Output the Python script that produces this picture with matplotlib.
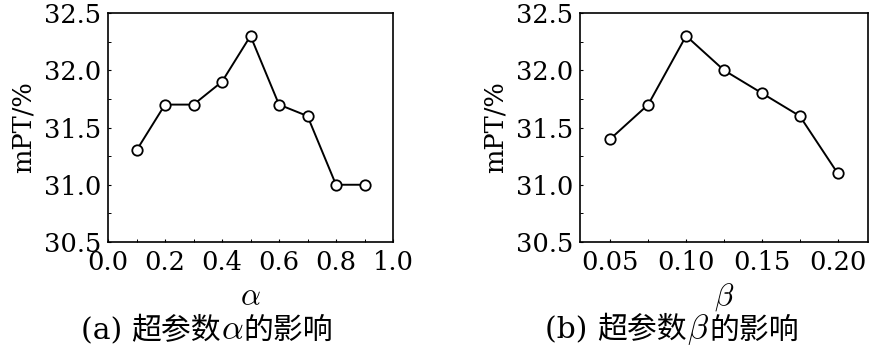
import matplotlib
matplotlib.use("Agg")
import matplotlib.pyplot as plt
from matplotlib.ticker import MultipleLocator
from matplotlib.offsetbox import TextArea, HPacker, AnnotationBbox

alpha_x = [0.1, 0.2, 0.3, 0.4, 0.5, 0.6, 0.7, 0.8, 0.9]
alpha_y = [31.3, 31.7, 31.7, 31.9, 32.3, 31.7, 31.6, 31.0, 31.0]
beta_x = [0.05, 0.075, 0.10, 0.125, 0.15, 0.175, 0.20]
beta_y = [31.4, 31.7, 32.3, 32.0, 31.8, 31.6, 31.1]
alpha_ticks = [0.0, 0.2, 0.4, 0.6, 0.8, 1.0]
beta_ticks = [0.05, 0.10, 0.15, 0.20]
y_ticks = [30.5, 31.0, 31.5, 32.0, 32.5]

plt.rcParams['font.family'] = ['DejaVu Serif', 'Noto Sans CJK SC']
plt.rcParams['mathtext.fontset'] = 'cm'

fig = plt.figure(figsize=(8.71, 3.5), dpi=100)
W, H = 871, 350
ax1 = fig.add_axes([108 / W, 1 - 242 / H, (393 - 108) / W, (242 - 13) / H])
ax2 = fig.add_axes([580 / W, 1 - 242 / H, (868 - 580) / W, (242 - 13) / H])

fs = 18.5
cfs = 21.5
cjk = ['Noto Sans CJK SC']
for ax, x, y, xt, xl, xminor, lab, pre, sym, capx in [
    (ax1, alpha_x, alpha_y, alpha_ticks, (0.0, 1.0), 0.1, r'$\alpha$', '(a)', r'$\alpha$', 207),
    (ax2, beta_x, beta_y, beta_ticks, (0.03, 0.22), 0.025, r'$\beta$', '(b)', r'$\beta$', 672),
]:
    ax.plot(x, y, color='black', lw=1.4, marker='o', ms=7.5, mfc='white', mec='black', mew=1.3)
    ax.set_xlim(*xl)
    ax.set_ylim(30.5, 32.5)
    ax.set_yticks(y_ticks)
    ax.set_yticklabels([f'{v:.1f}' for v in y_ticks])
    ax.set_xticks(xt)
    if ax is ax1:
        ax.set_xticklabels([f'{v:.1f}' for v in xt])
    else:
        ax.set_xticklabels([f'{v:.2f}' for v in xt])
    ax.yaxis.set_minor_locator(MultipleLocator(0.25))
    ax.xaxis.set_minor_locator(MultipleLocator(xminor))
    ax.tick_params(direction='in', length=2.5, width=0.8, labelsize=fs)
    ax.tick_params(axis='x', pad=6)
    ax.tick_params(axis='y', pad=5)
    ax.tick_params(which='minor', direction='in', length=2, width=0.7)
    for s in ax.spines.values():
        s.set_linewidth(1.2)
    ax.set_ylabel('mPT/%', fontsize=fs, labelpad=6)
    ax.set_xlabel(lab, fontsize=fs + 4, labelpad=4)
    parts = [
        TextArea(pre + ' ', textprops=dict(fontsize=cfs, family='DejaVu Serif')),
        TextArea('超参数', textprops=dict(fontsize=cfs, family=cjk)),
        TextArea(sym, textprops=dict(fontsize=cfs + 3)),
        TextArea('的影响', textprops=dict(fontsize=cfs, family=cjk)),
    ]
    box = HPacker(children=parts, align='baseline', pad=0, sep=0)
    ab = AnnotationBbox(box, (capx / W, 1 - 330 / H), xycoords='figure fraction', frameon=False,
                        box_alignment=(0.5, 0.5), annotation_clip=False)
    fig.add_artist(ab)

fig.savefig('out.png', dpi=100)
